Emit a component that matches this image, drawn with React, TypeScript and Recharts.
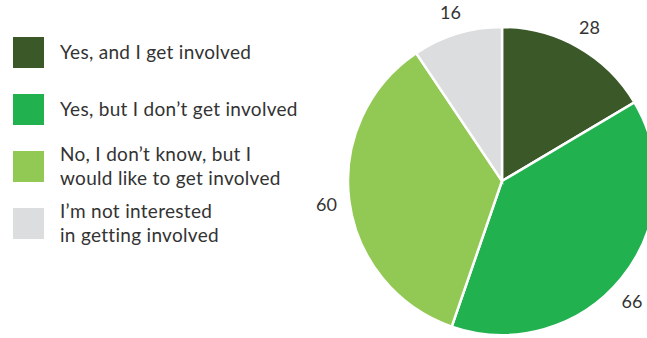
import React from 'react';
import { PieChart, Pie, Cell } from 'recharts';

const categories = [
  'Yes, and I get involved',
  'Yes, but I don\u2019t get involved',
  'No, I don\u2019t know, but I would like to get involved',
  'I\u2019m not interested in getting involved',
];
const legendLines = [
  ['Yes, and I get involved'],
  ['Yes, but I don\u2019t get involved'],
  ['No, I don\u2019t know, but I', 'would like to get involved'],
  ['I\u2019m not interested', 'in getting involved'],
];
const values = [28, 66, 60, 16];
const colors = ['#3B5829', '#21B14F', '#92C954', '#DCDDDF'];

const data = categories.map((name, i) => ({ name, value: values[i] }));

const FONT = 'Lato, "Open Sans", sans-serif';
const RAD = Math.PI / 180;
const MAX_X = 632;

const renderLabel = (props: any) => {
  const { cx, cy, midAngle, outerRadius, value } = props;
  const r = outerRadius + 23;
  let x = cx + r * Math.cos(-midAngle * RAD);
  let y = cy + r * Math.sin(-midAngle * RAD);
  if (x > MAX_X) {
    const dx = MAX_X - cx;
    const dy = Math.sqrt(Math.max(r * r - dx * dx, 0));
    x = MAX_X;
    y = cy + (y >= cy ? dy : -dy);
  }
  return (
    <text x={x} y={y} fill="#333" fontSize={18} fontFamily={FONT} textAnchor="middle" dominantBaseline="central">
      {value}
    </text>
  );
};

const legendTops = [37, 94, 151, 208];

const LegendBlock = () => (
  <div style={{ position: 'absolute', left: 0, top: 0, width: 320, height: 260, fontFamily: FONT, fontSize: 19, letterSpacing: 0.3, color: '#333' }}>
    {legendLines.map((lines, i) => (
      <div key={i}>
        <div style={{ position: 'absolute', left: 13, top: legendTops[i], width: 31, height: 31, background: colors[i] }} />
        <div style={{ position: 'absolute', left: 60, top: lines.length === 1 ? legendTops[i] + 3 : legendTops[i] - 9, lineHeight: '24px', whiteSpace: 'nowrap' }}>
          {lines.map((l, j) => (
            <div key={j}>{l}</div>
          ))}
        </div>
      </div>
    ))}
  </div>
);

export default function App() {
  return (
    <div style={{ position: 'absolute', left: 0, top: 0, width: 647, height: 338, background: '#fff', overflow: 'hidden' }}>
      <PieChart width={647} height={338} margin={{ top: 0, right: 0, bottom: 0, left: 0 }}>
        <Pie
          data={data}
          dataKey="value"
          nameKey="name"
          cx={502}
          cy={181}
          outerRadius={154}
          startAngle={90}
          endAngle={-270}
          stroke="#fff"
          strokeWidth={2.5}
          label={renderLabel}
          labelLine={false}
          isAnimationActive={false}
        >
          {data.map((d, i) => (
            <Cell key={d.name} fill={colors[i]} />
          ))}
        </Pie>
      </PieChart>
      <LegendBlock />
    </div>
  );
}
